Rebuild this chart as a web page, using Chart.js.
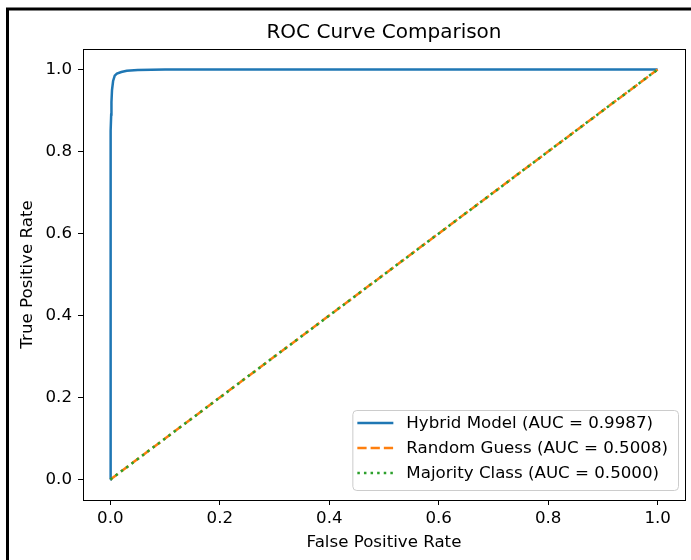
<!DOCTYPE html>
<html>
<head>
<meta charset="utf-8">
<script src="https://cdn.jsdelivr.net/npm/chart.js@4/dist/chart.umd.min.js"></script>
<style>
  body { margin: 0; background: #fff; }
  #wrap { position: relative; width: 691px; height: 560px; }
</style>
</head>
<body>
<div id="wrap"><canvas id="rocChart" width="691" height="560"></canvas></div>
<script>
// ROC values
const hybridFpr = [0, 0, 0.0005, 0.001, 0.0015, 0.002, 0.003, 0.005, 0.008, 0.012, 0.02, 0.03, 0.05, 0.1, 1.0];
const hybridTpr = [0, 0.63, 0.75, 0.85, 0.89, 0.92, 0.95, 0.972, 0.985, 0.99, 0.994, 0.997, 0.999, 1.0, 1.0];
const randomFpr = [0, 1];
const randomTpr = [0, 1];
const majorityFpr = [0, 1];
const majorityTpr = [0, 1];
const seriesLabels = [
  "Hybrid Model (AUC = 0.9987)",
  "Random Guess (AUC = 0.5008)",
  "Majority Class (AUC = 0.5000)",
];
const tickValues = [0, 0.2, 0.4, 0.6, 0.8, 1.0];

const FONT = "'DejaVu Sans', sans-serif";
const TXT = 16.67;

function toPoints(xs, ys) {
  return xs.map((x, i) => ({ x: x, y: ys[i] }));
}

// frame (all four spines) + outer figure border
const framePlugin = {
  id: "frame",
  beforeDraw(chart) {
    const ctx = chart.ctx;
    ctx.save();
    ctx.strokeStyle = "#000";
    ctx.lineWidth = 3;
    ctx.strokeRect(7.5, 9, 700, 600);
    ctx.restore();
  },
  afterDatasetsDraw(chart) {
    const { ctx, chartArea: a } = chart;
    ctx.save();
    ctx.strokeStyle = "#000";
    ctx.lineWidth = 1;
    ctx.strokeRect(Math.round(a.left) + 0.5, Math.round(a.top) + 0.5,
      Math.round(a.right - a.left), Math.round(a.bottom - a.top));
    ctx.restore();
  },
};

// matplotlib-like legend in the lower right corner
const legendPlugin = {
  id: "mplLegend",
  afterDraw(chart) {
    const { ctx, chartArea: a } = chart;
    const sets = chart.data.datasets;
    ctx.save();
    ctx.font = TXT + "px " + FONT;
    let maxW = 0;
    sets.forEach((d) => { maxW = Math.max(maxW, ctx.measureText(d.label).width); });
    const right = a.right - 7;
    const bottom = a.bottom - 10;
    const rowH = 25;
    const w = 5 + 36 + 13 + maxW + 10;
    const h = sets.length * rowH + 5;
    const left = right - w;
    const top = bottom - h;
    ctx.beginPath();
    ctx.roundRect(left + 0.5, top + 0.5, w, h, 4);
    ctx.fillStyle = "rgba(255,255,255,0.8)";
    ctx.fill();
    ctx.strokeStyle = "#cccccc";
    ctx.lineWidth = 1;
    ctx.stroke();
    sets.forEach((d, i) => {
      const y = top + 13 + i * rowH;
      ctx.beginPath();
      ctx.setLineDash(d.borderDash || []);
      ctx.strokeStyle = d.borderColor;
      ctx.lineWidth = d.borderWidth;
      ctx.moveTo(left + 5, y);
      ctx.lineTo(left + 41, y);
      ctx.stroke();
      ctx.setLineDash([]);
      ctx.fillStyle = "#000";
      ctx.textBaseline = "middle";
      ctx.textAlign = "left";
      ctx.fillText(d.label, left + 54, y + 1);
    });
    ctx.restore();
  },
};

const data = {
  datasets: [
    {
      label: seriesLabels[0],
      data: toPoints(hybridFpr, hybridTpr),
      borderColor: "#1f77b4",
      borderWidth: 2.5,
      pointRadius: 0,
      tension: 0,
      order: 2,
    },
    {
      label: seriesLabels[1],
      data: toPoints(randomFpr, randomTpr),
      borderColor: "#ff7f0e",
      borderWidth: 2.5,
      borderDash: [9.25, 4],
      pointRadius: 0,
      order: 1,
    },
    {
      label: seriesLabels[2],
      data: toPoints(majorityFpr, majorityTpr),
      borderColor: "#2ca02c",
      borderWidth: 2.5,
      borderDash: [2.5, 4.1],
      pointRadius: 0,
      order: 0,
    },
  ],
};

function axis(titleText, titlePadding, fitSize, isX) {
  return {
    type: "linear",
    min: -0.05,
    max: 1.05,
    afterBuildTicks(scale) {
      scale.ticks = tickValues.map((v) => ({ value: v }));
    },
    afterFit(scale) {
      if (isX) scale.height = fitSize;
      else scale.width = fitSize;
    },
    grid: {
      drawOnChartArea: false,
      drawTicks: true,
      tickLength: 5,
      tickColor: "#000",
      tickWidth: 1,
    },
    border: { display: false },
    ticks: {
      color: "#000",
      font: { family: FONT, size: TXT },
      padding: isX ? 4 : 6,
      maxRotation: 0,
      autoSkip: false,
      callback: (v) => Number(v).toFixed(1),
    },
    title: {
      display: true,
      text: titleText,
      color: "#000",
      font: { family: FONT, size: TXT },
      padding: titlePadding,
    },
  };
}

const config = {
  type: "line",
  data: data,
  options: {
    responsive: false,
    animation: false,
    devicePixelRatio: 1,
    layout: { padding: { top: 10, right: 6, bottom: 0, left: 0 } },
    scales: {
      x: axis("False Positive Rate", { top: 0, bottom: 7 }, 60, true),
      y: axis("True Positive Rate", { top: 18, bottom: 0 }, 83, false),
    },
    plugins: {
      legend: { display: false },
      tooltip: { enabled: false },
      title: {
        display: true,
        text: "ROC Curve Comparison",
        fullSize: false,
        color: "#000",
        font: { family: FONT, size: 20, weight: "normal" },
        padding: { top: 11, bottom: 4 },
      },
    },
  },
  plugins: [framePlugin, legendPlugin],
};

window.onload = function () {
  const ctx = document.getElementById("rocChart").getContext("2d");
  const rocChart = new Chart(ctx, config);
};
</script>
</body>
</html>
